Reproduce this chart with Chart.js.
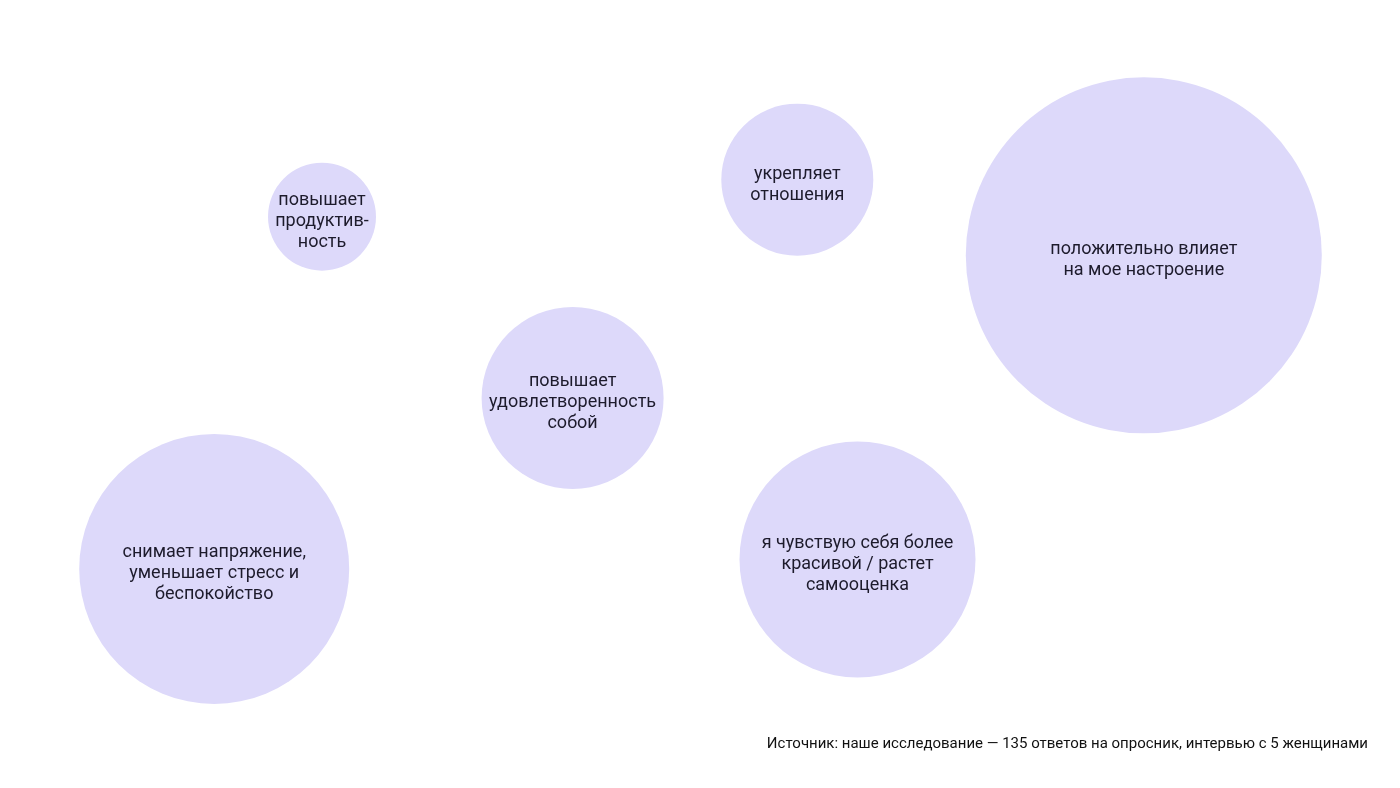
<!DOCTYPE html>
<html>
<head>
<meta charset="utf-8">
<script src="https://cdn.jsdelivr.net/npm/chart.js@4"></script>
<style>
    html, body { margin: 0; padding: 0; background: #ffffff; }
    #wrap { width: 1400px; height: 788px; position: relative; }
</style>
</head>
<body>
<div id="wrap"><canvas id="bubbleChart"></canvas></div>
<script>
// Chart data
const labels = [
    ['повышает', 'продуктив-', 'ность'],
    ['укрепляет', 'отношения'],
    ['положительно влияет', 'на мое настроение'],
    ['повышает', 'удовлетворенность', 'собой'],
    ['снимает напряжение,', 'уменьшает стресс и', 'беспокойство'],
    ['я чувствую себя более', 'красивой / растет', 'самооценка']
];
const xValues = [23.0, 56.95, 81.7, 40.9, 15.3, 61.25];
const yValues = [72.5, 77.2, 67.6, 49.5, 27.8, 29.0];
const radii = [54, 76, 178, 91, 135, 118];
const sourceText = 'Источник: наше исследование — 135 ответов на опросник, интервью с 5 женщинами';

const bubbleColor = 'rgb(221, 217, 250)';
const textColor = '#1d1b2c';

// Text inside bubbles + source line
const labelPlugin = {
    id: 'bubbleLabels',
    afterDatasetsDraw(chart) {
        const ctx = chart.ctx;
        const meta = chart.getDatasetMeta(0);
        ctx.save();
        ctx.fillStyle = textColor;
        ctx.font = '18px Roboto';
        ctx.textAlign = 'center';
        ctx.textBaseline = 'middle';
        meta.data.forEach((pt, i) => {
            const lines = labels[i];
            const lh = 21;
            const top = pt.y + 5 - (lines.length - 1) * lh / 2;
            lines.forEach((line, j) => {
                ctx.fillText(line, pt.x, top + j * lh);
            });
        });
        ctx.font = '15px Roboto';
        ctx.textAlign = 'right';
        ctx.textBaseline = 'alphabetic';
        ctx.fillStyle = '#111111';
        ctx.fillText(sourceText, 1368, 748);
        ctx.restore();
    }
};

const ctx = document.getElementById('bubbleChart').getContext('2d');
new Chart(ctx, {
    type: 'bubble',
    data: {
        datasets: [{
            data: xValues.map((x, i) => ({ x: x, y: yValues[i], r: radii[i] })),
            backgroundColor: bubbleColor,
            borderWidth: 0,
            hoverRadius: 0,
            clip: false
        }]
    },
    options: {
        responsive: true,
        maintainAspectRatio: false,
        animation: false,
        layout: { padding: 0, autoPadding: false },
        scales: {
            x: { type: 'linear', min: 0, max: 100, display: false },
            y: { type: 'linear', min: 0, max: 100, display: false }
        },
        plugins: {
            legend: { display: false },
            tooltip: { enabled: false }
        }
    },
    plugins: [labelPlugin]
});
</script>
</body>
</html>
